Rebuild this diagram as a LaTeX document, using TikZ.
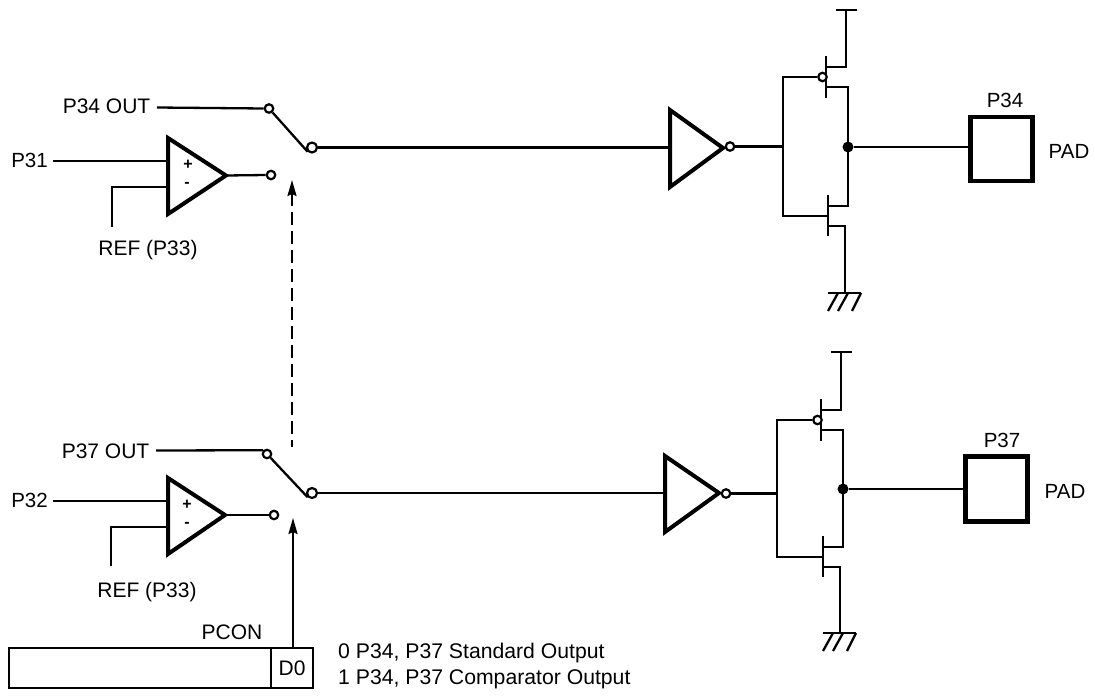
\documentclass[tikz,border=0pt]{standalone}
\usepackage{fontspec}
\setmainfont{Liberation Sans}
\usetikzlibrary{arrows.meta}
\tikzset{
  wire/.style={line width=2.3pt},
  tri/.style={line width=4pt,line join=miter,fill=white},
  pin/.style={circle,draw,line width=2.2pt,fill=white,inner sep=0pt,minimum size=8.5pt},
  dotn/.style={circle,fill=black,inner sep=0pt,minimum size=11pt},
  lab/.style={inner sep=0pt,font=\fontsize{20.5}{24}\selectfont},
  longlab/.style={inner sep=0pt,font=\fontsize{21}{24}\selectfont},
  sign/.style={inner sep=0pt,font=\fontsize{16}{18}\selectfont\bfseries},
  legend/.style={inner sep=0pt,anchor=west,font=\fontsize{21.2}{24}\selectfont},
  padbox/.style={draw,line width=4.4pt,inner sep=0pt,fill=white},
  ctl/.style={line width=2.2pt,-{Stealth[length=16pt,width=9pt,inset=2pt]}},
}
\newcommand{\mosfets}[9]{%
  % #1 prefix, #2 bus x, #3 P gate y, #4 N gate y, #5 P bar x, #6 N bar x, #7 right x, #8 supply x, #9 ground x
  \coordinate (#1gp) at (#2,#3);
  \coordinate (#1gn) at (#2,#4);
  \coordinate (#1gnr) at (#6,#4);
  \coordinate (#1pa) at (#5,#3-21);
  \coordinate (#1pb) at (#5,#3+21);
  \coordinate (#1na) at (#6,#4-21);
  \coordinate (#1nb) at (#6,#4+20);
  \coordinate (#1ps) at (#5,#3-10);
  \coordinate (#1pd) at (#5,#3+10);
  \coordinate (#1ns) at (#6,#4+10);
  \coordinate (#1nd) at (#6,#4-10);
  \coordinate (#1psr) at (#8,#3-10);
  \coordinate (#1pdr) at (#7,#3+10);
  \coordinate (#1nsr) at (#9,#4+10);
  \coordinate (#1ndr) at (#7,#4-10);
  \draw[wire] (#1pa) -- (#1pb);
  \draw[wire] (#1na) -- (#1nb);
  \node[pin] (#1bub) at (#5-3.5,#3) {};
  \draw[wire] (#1gnr) -- (#1gn) -- (#1gp) -- (#1bub.west);
  \draw[wire] (#1pd) -- (#1pdr) -- (#1ndr) -- (#1nd);
}
\newcommand{\railsgnd}[5]{%
  % #1 prefix, #2 supply x, #3 supply y, #4 ground x, #5 ground y
  \coordinate (#1top) at (#2,#3);
  \coordinate (#1gnd) at (#4,#5);
  \draw[wire] (#1ps) -- (#1psr) -- (#1top);
  \draw[wire] (#2-10.5,#3) -- (#2+10.5,#3);
  \draw[wire] (#1ns) -- (#1nsr) -- (#1gnd);
  \draw[wire] (#4-17,#5) -- (#4+16,#5);
  \draw[wire] (#4-7,#5) -- (#4-17,#5+18);
  \draw[wire] (#4+3,#5) -- (#4-7,#5+18);
  \draw[wire] (#4+16,#5) -- (#4+7,#5+18);
}
\begin{document}
\begin{tikzpicture}[x=1pt,y=-1pt]
\useasboundingbox (0,0) rectangle (1095,696);
% ---------- upper channel
\node[longlab,anchor=east] (p34out) at (150.5,106) {P34 OUT};
\node[lab,anchor=east] (p31) at (48,160) {P31};
\node[longlab] (refa) at (148,250) {REF (P33)};
\coordinate (refa1) at (112,227);
\coordinate (refa2) at (112,187);
\coordinate (cam) at (168,187);
\coordinate (cap) at (168,161);
\coordinate (p31e) at (53,161);
\coordinate (p34e) at (157,107.5);
\draw[wire] (refa1) -- (refa2) -- (cam);
\draw[wire] (p31e) -- (cap);
\coordinate (catl) at (168,138);
\coordinate (cabl) at (168,214);
\coordinate (catip) at (226,175.5);
\draw[tri] (catl) -- (catip) -- (cabl) -- cycle;
\node[sign] (caplus) at (188,165) {+};
\node[sign] (caminus) at (187,185) {-};
\node[pin] (swaa) at (269,108.5) {};
\node[pin] (swab) at (271,175) {};
\node[pin,minimum size=10pt] (swac) at (312,147.5) {};
\draw[wire] (p34e) -- (swaa.west);
\draw[wire] (swaa) -- (swac.south west);
\draw[wire] (catip) -- (swab.west);
\coordinate (iatl) at (670,110);
\coordinate (iabl) at (670,187);
\coordinate (iatip) at (723,148);
\coordinate (iain) at (670,147.5);
\draw[wire] (swac.east) -- (iain);
\draw[tri] (iatl) -- (iatip) -- (iabl) -- cycle;
\node[pin] (iaout) at (730,146.5) {};
\coordinate (iabus) at (783,146.5);
\draw[wire] (iaout.east) -- (iabus);
\mosfets{ma}{783}{77}{216}{826}{828}{848}{846}{845}
\railsgnd{ma}{846}{10}{845}{293}
\node[padbox,minimum width=62pt,minimum height=64pt] (pada) at (1001.3,148.7) {};
\node[dotn] (dota) at (848,147) {};
\draw[wire] (dota) -- (dota -| pada.west);
\node[lab] (p34) at (1005,100) {P34};
\node[lab] (padla) at (1069,151) {PAD};
% ---------- lower channel
\node[longlab,anchor=east] (p37out) at (149.5,451) {P37 OUT};
\node[lab,anchor=east] (p32) at (48,500) {P32};
\node[longlab] (refb) at (147,592) {REF (P33)};
\coordinate (refb1) at (111,566);
\coordinate (refb2) at (111,527);
\coordinate (cbm) at (168,527);
\coordinate (cbp) at (168,501);
\coordinate (p32e) at (53,501);
\coordinate (p37e) at (156,450.5);
\draw[wire] (refb1) -- (refb2) -- (cbm);
\draw[wire] (p32e) -- (cbp);
\coordinate (cbtl) at (168,478);
\coordinate (cbbl) at (168,554);
\coordinate (cbtip) at (225,515);
\draw[tri] (cbtl) -- (cbtip) -- (cbbl) -- cycle;
\node[sign] (cbplus) at (187,505) {+};
\node[sign] (cbminus) at (187,525) {-};
\node[pin] (swba) at (267,454) {};
\node[pin] (swbb) at (274,515) {};
\node[pin,minimum size=10pt] (swbc) at (312,493) {};
\draw[wire] (p37e) -- (swba.north west);
\draw[wire] (swba) -- (swbc.south west);
\draw[wire] (cbtip) -- (swbb.west);
\coordinate (ibtl) at (665,456);
\coordinate (ibbl) at (665,532);
\coordinate (ibtip) at (719,493);
\coordinate (ibin) at (665,493);
\draw[wire] (swbc.east) -- (ibin);
\draw[tri] (ibtl) -- (ibtip) -- (ibbl) -- cycle;
\node[pin] (ibout) at (726,493.5) {};
\coordinate (ibbus) at (777,493.5);
\draw[wire] (ibout.east) -- (ibbus);
\mosfets{mb}{777}{420}{557}{821}{823}{843}{841}{840}
\railsgnd{mb}{841}{352}{840}{633}
\node[padbox,minimum width=62pt,minimum height=65pt] (padb) at (996.3,489) {};
\node[dotn] (dotb) at (843,489) {};
\draw[wire] (dotb) -- (dotb -| padb.west);
\node[lab] (p37) at (1002,440) {P37};
\node[lab] (padlb) at (1065,491) {PAD};
% ---------- PCON register
\node[draw,line width=2.2pt,minimum width=262pt,minimum height=40pt,inner sep=0pt,anchor=north west] (pcon) at (8,647) {};
\node[draw,line width=2.2pt,minimum width=42pt,minimum height=40pt,inner sep=0pt,anchor=north west,longlab] (d0) at (270,647) {D0};
\node[longlab] (pconl) at (232,632) {PCON};
\node[legend] (leg0) at (338,653) {0 P34, P37 Standard Output};
\node[legend] (leg1) at (338,679) {1 P34, P37 Comparator Output};
\coordinate (ctla) at (293,647);
\coordinate (ctlb) at (293,518);
\draw[ctl] (ctla) -- (ctlb);
\coordinate (dsha) at (292,447);
\coordinate (dshb) at (292,180);
\draw[ctl,dash pattern=on 13pt off 6pt,dash phase=6pt] (dsha) -- (dshb);
\end{tikzpicture}
\end{document}
